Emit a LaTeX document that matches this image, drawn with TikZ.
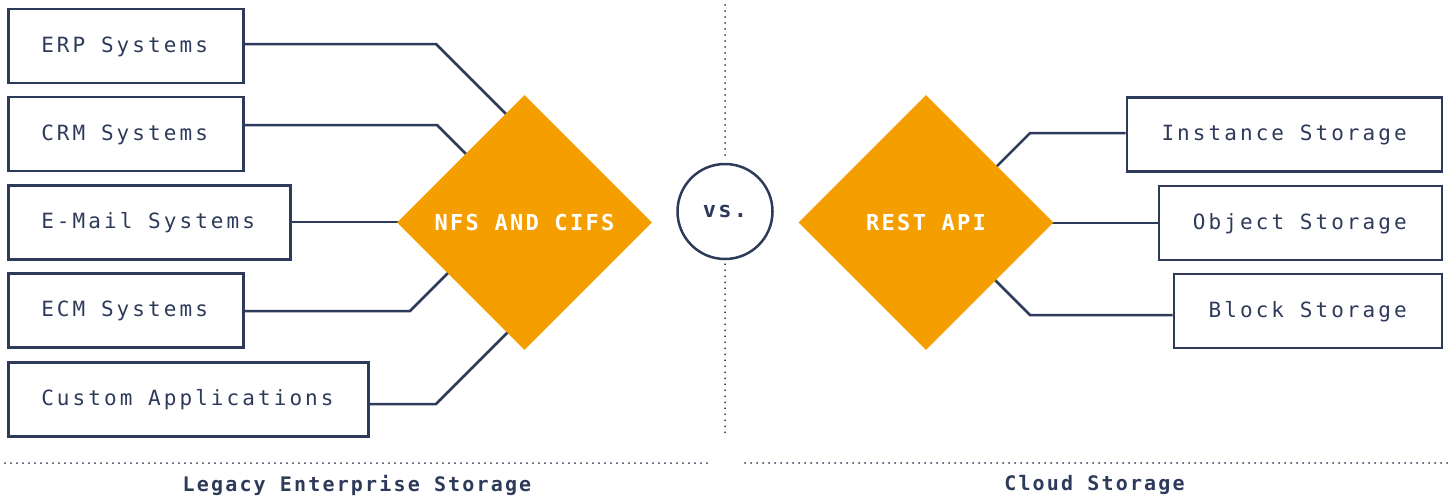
\documentclass[tikz,border=0pt]{standalone}
\usepackage{fontspec}
\usetikzlibrary{shapes.geometric}
\newfontfamily\monoR[LetterSpace=14.6]{DejaVu Sans Mono}
\newfontfamily\monoB[LetterSpace=10.5]{DejaVu Sans Mono}
\newfontfamily\monoL[LetterSpace=10.8]{DejaVu Sans Mono}
\definecolor{navy}{HTML}{2E3A5A}
\definecolor{orng}{HTML}{F49E00}
\newcommand{\ltext}[2]{\makebox[#1][l]{#2}}
\newcommand{\rtext}[2]{\makebox[#1][r]{#2}}
\tikzset{
  sysbox/.style={draw=navy, line width=2.5pt, rectangle, minimum height=74pt, inner ysep=0pt,
    inner xsep=33pt, font=\monoR\fontsize{21}{25}\selectfont, text=navy,
    text height=16pt, text depth=4pt},
  lbox/.style={sysbox, anchor=west},
  rbox/.style={sysbox, anchor=east, inner xsep=35pt},
  conn/.style={draw=navy, line width=2.5pt},
  dia/.style={diamond, fill=orng, minimum width=255pt, minimum height=255pt, inner sep=0pt, aspect=1,
    text=white, font=\monoB\bfseries\fontsize{22}{26}\selectfont},
  dotline/.style={draw=navy, line width=2pt, line cap=round, dash pattern=on 0pt off 6pt},
  sidelabel/.style={text=navy, font=\monoL\bfseries\fontsize{20}{24}\selectfont}
}
\begin{document}
\begin{tikzpicture}[x=1pt,y=-1pt]
\useasboundingbox (0,0) rectangle (1450,499);
% left boxes
\node[lbox] (erp) at (7,46) {\ltext{169pt}{ERP Systems}};
\node[lbox] (crm) at (7,134) {\ltext{169pt}{CRM Systems}};
\node[lbox] (email) at (7,222.5) {\ltext{216pt}{E-Mail Systems}};
\node[lbox] (ecm) at (7,310.5) {\ltext{169pt}{ECM Systems}};
\node[lbox] (custom) at (7,399.5) {\ltext{294pt}{Custom Applications}};
% right boxes
\node[rbox] (inst) at (1443,134.5) {\rtext{245pt}{Instance Storage}};
\node[rbox] (obj) at (1443,223) {\rtext{213pt}{Object Storage}};
\node[rbox] (block) at (1443,311) {\rtext{198pt}{Block Storage}};
% connectors (drawn below diamonds)
\draw[conn] (erp.east |- 0,44) -- (436,44) -- ++(80,80);
\draw[conn] (crm.east |- 0,125) -- (437,125) -- ++(60,60);
\draw[conn] (email.east |- 0,222) -- (440,222);
\draw[conn] (ecm.east |- 0,311) -- (410,311) -- ++(60,-60);
\draw[conn] (custom.east |- 0,404) -- (436,404) -- ++(80,-80);
\draw[conn] (inst.west |- 0,133) -- (1030,133) -- ++(-60,60);
\draw[conn] (obj.west |- 0,223) -- (1010,223);
\draw[conn] (block.west |- 0,315) -- (1030,315) -- ++(-60,-60);
% diamonds
\node[dia] (nfs) at (524.5,222.5) {NFS AND CIFS};
\node[dia] (rest) at (926,222.5) {REST API};
% vs circle
\node[circle, draw=navy, line width=2.5pt, minimum size=95pt, inner sep=0pt, text=navy,
  font=\monoB\bfseries\fontsize{22}{26}\selectfont] (vs) at (725,211.5) {vs.};
\draw[dotline] (725,5) -- ([yshift=4pt]vs.north);
\draw[dotline] ([yshift=-4pt]vs.south) -- (725,438);
% bottom
\draw[dotline] (5,463) -- (710,463);
\draw[dotline] (745,463) -- (1447,463);
\node[sidelabel] (legacy) at (357,485) {Legacy Enterprise Storage};
\node[sidelabel] (cloud) at (1094.5,485) {Cloud Storage};
\end{tikzpicture}
\end{document}
